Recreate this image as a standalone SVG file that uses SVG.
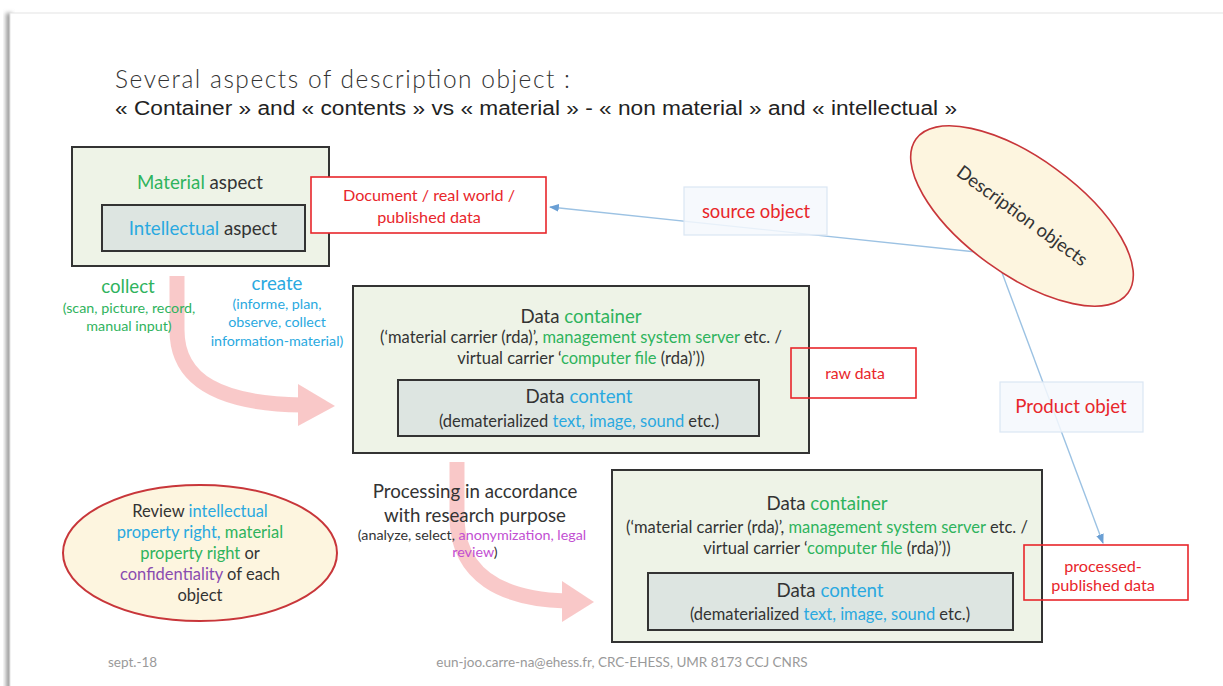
<svg xmlns="http://www.w3.org/2000/svg" width="1223" height="686" viewBox="0 0 1223 686">
<style>
.c{font-family:Lato,"Open Sans","Liberation Sans",sans-serif;fill:#333}
.box{fill:#eef3e7;stroke:#333;stroke-width:2}
.inner{fill:#dde5e1;stroke:#333;stroke-width:2}
.red{fill:#fff;stroke:#e8262b;stroke-width:1.6}
.rt{fill:#e8262b}
.g{fill:#2fb35d}
.b{fill:#2aa9e0}
.p{fill:#8a4cb0}
.m{fill:#c24fd2}
.lbl{fill:#f4f8fd;stroke:#dbe6f3;stroke-width:1.2}
.conn{fill:none;stroke:#9cc2e3;stroke-width:1.4}
.pink{fill:none;stroke:#f7b4b4;stroke-width:15}
.ph{fill:#f7b4b4}
.h{font-size:18.7px}
.s{font-size:16.5px}
.t{font-size:14.3px}
</style>
<defs>
<marker id="ah" viewBox="0 0 10 10" refX="9" refY="5" markerWidth="7" markerHeight="7" orient="auto">
<path d="M0,1 L10,5 L0,9 z" fill="#6a9fd4"/>
</marker>
<filter id="sh" x="-50%" y="-5%" width="200%" height="110%"><feGaussianBlur stdDeviation="2"/></filter>
</defs>
<rect width="1223" height="686" fill="#fff"/>
<g id="slide">
<rect x="6" y="13" width="6" height="680" fill="#999" filter="url(#sh)"/>
<rect x="10" y="13" width="1220" height="680" fill="#fff" stroke="#e4e4e4" stroke-width="1"/>
</g>
<g id="title">
<text x="115" y="88" class="c" font-size="24.5" font-weight="300" textLength="455" lengthAdjust="spacing">Several aspects of description object :</text>
<text x="115" y="115" font-family="'Liberation Sans',Arial,sans-serif" font-size="19.5" fill="#222" textLength="842" lengthAdjust="spacingAndGlyphs">« Container » and « contents » vs « material » - « non material » and « intellectual »</text>
</g>
<g id="connectors">
<g opacity="0.72">
<path class="pink" d="M177,276 L177,330 C177,382 222,404 302,405"/>
<polygon class="ph" points="298,384 335,406 298,426"/>
<path class="pink" d="M457,462 L457,520 C459,576 502,599 566,601"/>
<polygon class="ph" points="562,581 594,602 562,622"/>
</g>
<path class="conn" d="M995,254 L550,207" marker-end="url(#ah)"/>
<path class="conn" d="M995,254 L1103,543" marker-end="url(#ah)"/>
</g>
<g id="material-box">
<rect class="box" x="72" y="147" width="257" height="119"/>
<text class="c h" x="200" y="189" text-anchor="middle"><tspan class="g">Material</tspan> aspect</text>
<rect class="inner" x="102" y="205" width="203" height="46"/>
<text class="c h" x="203" y="235" text-anchor="middle"><tspan class="b">Intellectual</tspan> aspect</text>
</g>
<g id="document-box">
<rect class="red" x="311" y="177" width="235" height="56"/>
<text class="c rt" x="429" y="201" font-size="16.2" text-anchor="middle">Document / real world /</text>
<text class="c rt" x="429" y="223" font-size="16.2" text-anchor="middle">published data</text>
</g>
<g id="collect">
<text class="c g h" x="128" y="293" text-anchor="middle">collect</text>
<text class="c g t" x="129" y="313" text-anchor="middle">(scan, picture, record,</text>
<text class="c g t" x="129" y="331" text-anchor="middle">manual input)</text>
</g>
<g id="create">
<text class="c b h" x="277" y="290" text-anchor="middle">create</text>
<text class="c b t" x="277" y="309" text-anchor="middle">(informe, plan,</text>
<text class="c b t" x="277" y="327" text-anchor="middle">observe, collect</text>
<text class="c b t" x="277" y="346" text-anchor="middle">information-material)</text>
</g>
<g id="data-box-1">
<rect class="box" x="353" y="286" width="456" height="167"/>
<text class="c h" x="581" y="323" text-anchor="middle">Data <tspan class="g">container</tspan></text>
<text class="c s" x="581" y="343" text-anchor="middle">(‘material carrier (rda)’, <tspan class="g">management system server</tspan> etc. /</text>
<text class="c s" x="581" y="364" text-anchor="middle">virtual carrier ‘<tspan class="g">computer file</tspan> (rda)’))</text>
<rect class="inner" x="398" y="380" width="361" height="56"/>
<text class="c h" x="579" y="403" text-anchor="middle">Data <tspan class="b">content</tspan></text>
<text class="c s" x="579" y="427" text-anchor="middle">(dematerialized <tspan class="b">text, image, sound</tspan> etc.)</text>
</g>
<g id="raw-data">
<rect class="red" x="791" y="348" width="125" height="50" fill-opacity="0"/>
<text class="c rt" x="855" y="379" font-size="15.8" text-anchor="middle">raw data</text>
</g>
<g id="processing">
<text class="c h" x="475" y="498" text-anchor="middle">Processing in accordance</text>
<text class="c h" x="475" y="522" text-anchor="middle">with research purpose</text>
<text class="c t" x="472" y="540" text-anchor="middle">(analyze, select, <tspan class="m">anonymization, legal</tspan></text>
<text class="c m t" x="475" y="557" text-anchor="middle">review<tspan fill="#333">)</tspan></text>
</g>
<g id="review">
<ellipse cx="200" cy="553" rx="137" ry="68" fill="#fdf5df" stroke="#c8363a" stroke-width="2"/>
<text class="c s" x="200" y="517" text-anchor="middle">Review <tspan class="b">intellectual</tspan></text>
<text class="c s" x="200" y="538" text-anchor="middle"><tspan class="b">property right,</tspan> <tspan class="g">material</tspan></text>
<text class="c s" x="200" y="559" text-anchor="middle"><tspan class="g">property right</tspan> or</text>
<text class="c s" x="200" y="580" text-anchor="middle"><tspan class="p">confidentiality</tspan> of each</text>
<text class="c s" x="200" y="601" text-anchor="middle">object</text>
</g>
<g id="data-box-2">
<rect class="box" x="612" y="470" width="430" height="172"/>
<text class="c h" x="827" y="510" text-anchor="middle">Data <tspan class="g">container</tspan></text>
<text class="c s" x="827" y="533" text-anchor="middle">(‘material carrier (rda)’, <tspan class="g">management system server</tspan> etc. /</text>
<text class="c s" x="827" y="554" text-anchor="middle">virtual carrier ‘<tspan class="g">computer file</tspan> (rda)’))</text>
<rect class="inner" x="648" y="573" width="365" height="57"/>
<text class="c h" x="830" y="597" text-anchor="middle">Data <tspan class="b">content</tspan></text>
<text class="c s" x="830" y="620" text-anchor="middle">(dematerialized <tspan class="b">text, image, sound</tspan> etc.)</text>
</g>
<g id="processed-data">
<rect class="red" x="1024" y="545" width="164" height="55" fill-opacity="0"/>
<text class="c rt" x="1103" y="572" font-size="16.2" text-anchor="middle">processed-</text>
<text class="c rt" x="1103" y="591" font-size="16.2" text-anchor="middle">published data</text>
</g>
<g id="source-object">
<rect class="lbl" x="684" y="187" width="143" height="48" fill-opacity="0.85"/>
<text class="c rt" x="756" y="218" font-size="18.4" text-anchor="middle">source object</text>
</g>
<g id="product-object">
<rect class="lbl" x="1000" y="382" width="143" height="50" fill-opacity="0.85"/>
<text class="c rt" x="1071" y="413" font-size="18.7" text-anchor="middle">Product objet</text>
</g>
<g id="description-objects">
<ellipse cx="1022" cy="216" rx="131" ry="58" transform="rotate(36 1022 216)" fill="#fdf5df" stroke="#c8363a" stroke-width="1.6"/>
<text class="c" x="1022" y="222" font-size="18.4" text-anchor="middle" transform="rotate(36 1022 216)">Description objects</text>
</g>
<g id="footer">
<text class="c" x="108" y="667" font-size="13.5" style="fill:#9a9a9a">sept.-18</text>
<text class="c" x="622" y="667" font-size="13.5" text-anchor="middle" style="fill:#9a9a9a">eun-joo.carre-na@ehess.fr, CRC-EHESS, UMR 8173 CCJ CNRS</text>
</g>
</svg>
